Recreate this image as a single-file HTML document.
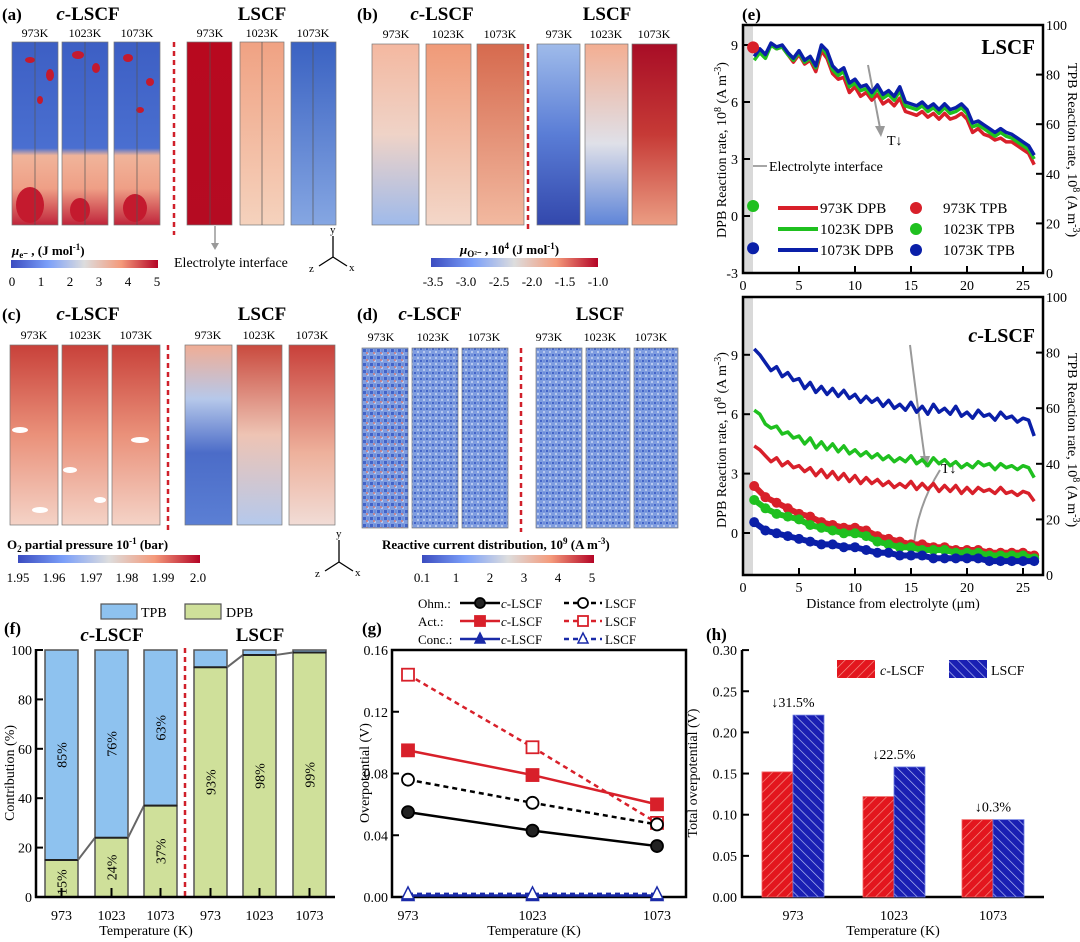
<!DOCTYPE html>
<html><head><meta charset="utf-8">
<style>
html,body{margin:0;padding:0;background:#fff;}
svg{display:block;font-family:"Liberation Serif",serif;}
</style></head>
<body>
<svg id="fig" width="1080" height="942" viewBox="0 0 1080 942" xmlns="http://www.w3.org/2000/svg">
<defs>
  <linearGradient id="cw" x1="0" x2="1" y1="0" y2="0">
    <stop offset="0" stop-color="#3b4cc0"/><stop offset="0.25" stop-color="#7b9ff9"/>
    <stop offset="0.5" stop-color="#dddddd"/><stop offset="0.75" stop-color="#f49a7b"/>
    <stop offset="1" stop-color="#b40426"/>
  </linearGradient>
  <linearGradient id="aC" x1="0" x2="0" y1="0" y2="1"><stop offset="0" stop-color="#3d5fc4"/><stop offset="0.58" stop-color="#4a6fd0"/><stop offset="0.62" stop-color="#f0b49a"/><stop offset="0.8" stop-color="#ef9f86"/><stop offset="1" stop-color="#c0243a"/></linearGradient>
  <linearGradient id="aL1" x1="0" x2="0" y1="0" y2="1"><stop offset="0" stop-color="#b8091f"/><stop offset="1" stop-color="#b50b22"/></linearGradient>
  <linearGradient id="aL2" x1="0" x2="0" y1="0" y2="1"><stop offset="0" stop-color="#f0a283"/><stop offset="1" stop-color="#f5d2bd"/></linearGradient>
  <linearGradient id="aL3" x1="0" x2="0" y1="0" y2="1"><stop offset="0" stop-color="#3a62c2"/><stop offset="1" stop-color="#85a6e2"/></linearGradient>
  <linearGradient id="bC1" x1="0" x2="0" y1="0" y2="1"><stop offset="0" stop-color="#f4b8a0"/><stop offset="0.5" stop-color="#efd3c7"/><stop offset="1" stop-color="#9fbaea"/></linearGradient>
  <linearGradient id="bC2" x1="0" x2="0" y1="0" y2="1"><stop offset="0" stop-color="#f09a78"/><stop offset="1" stop-color="#f3d7c9"/></linearGradient>
  <linearGradient id="bC3" x1="0" x2="0" y1="0" y2="1"><stop offset="0" stop-color="#d66a4e"/><stop offset="1" stop-color="#f2b9a0"/></linearGradient>
  <linearGradient id="bL1" x1="0" x2="0" y1="0" y2="1"><stop offset="0" stop-color="#9fbbea"/><stop offset="0.5" stop-color="#5a7dd6"/><stop offset="1" stop-color="#3348ac"/></linearGradient>
  <linearGradient id="bL2" x1="0" x2="0" y1="0" y2="1"><stop offset="0" stop-color="#f3ae92"/><stop offset="0.55" stop-color="#dfe0e8"/><stop offset="1" stop-color="#5f85d8"/></linearGradient>
  <linearGradient id="bL3" x1="0" x2="0" y1="0" y2="1"><stop offset="0" stop-color="#a80d26"/><stop offset="0.5" stop-color="#c63a36"/><stop offset="1" stop-color="#eb9d83"/></linearGradient>
  <linearGradient id="cC" x1="0" x2="0" y1="0" y2="1"><stop offset="0" stop-color="#c8413a"/><stop offset="0.5" stop-color="#ea917a"/><stop offset="1" stop-color="#f4d3c7"/></linearGradient>
  <linearGradient id="cL1" x1="0" x2="0" y1="0" y2="1"><stop offset="0" stop-color="#f0ad95"/><stop offset="0.3" stop-color="#b6c8ea"/><stop offset="0.6" stop-color="#4b6cc8"/><stop offset="1" stop-color="#5b7fd4"/></linearGradient>
  <linearGradient id="cL2" x1="0" x2="0" y1="0" y2="1"><stop offset="0" stop-color="#c94a3e"/><stop offset="0.5" stop-color="#eec4b4"/><stop offset="1" stop-color="#b5c9ec"/></linearGradient>
  <linearGradient id="cL3" x1="0" x2="0" y1="0" y2="1"><stop offset="0" stop-color="#c8403a"/><stop offset="0.6" stop-color="#eeb19c"/><stop offset="1" stop-color="#f1dcd6"/></linearGradient>
  <pattern id="speck" width="6" height="6" patternUnits="userSpaceOnUse">
    <rect width="6" height="6" fill="#7f9de0"/><circle cx="1" cy="1" r="1.1" fill="#3e5fc6"/><circle cx="4" cy="4" r="1" fill="#c9d6f3"/><circle cx="4" cy="1" r="0.8" fill="#5577d0"/>
  </pattern>
  <pattern id="speckR" width="7" height="7" patternUnits="userSpaceOnUse">
    <rect width="7" height="7" fill="url(#speck)"/><circle cx="3" cy="3" r="1" fill="#d47a78"/>
  </pattern>
  <pattern id="hatchR" width="7" height="7" patternUnits="userSpaceOnUse" patternTransform="rotate(45)">
    <rect width="7" height="7" fill="#e3161e"/><line x1="0" y1="0" x2="0" y2="7" stroke="#f59a8e" stroke-width="1.3"/>
  </pattern>
  <pattern id="hatchB" width="7" height="7" patternUnits="userSpaceOnUse" patternTransform="rotate(-45)">
    <rect width="7" height="7" fill="#1a1fb3"/><line x1="0" y1="0" x2="0" y2="7" stroke="#b9c3f5" stroke-width="1.3"/>
  </pattern>
</defs>

<!-- ============ Panel (a) ============ -->
<g>
  <text x="2" y="20" font-size="17" font-weight="bold">(a)</text>
  <text x="88" y="20" font-size="19" font-weight="bold" text-anchor="middle"><tspan font-style="italic">c</tspan>-LSCF</text>
  <text x="262" y="20" font-size="19" font-weight="bold" text-anchor="middle">LSCF</text>
  <g font-size="12" text-anchor="middle">
    <text x="35" y="37">973K</text><text x="85" y="37">1023K</text><text x="137" y="37">1073K</text>
    <text x="210" y="37">973K</text><text x="262" y="37">1023K</text><text x="313" y="37">1073K</text>
  </g>
  <g stroke="#777" stroke-width="0.7">
    <rect x="12" y="42" width="46" height="183" fill="url(#aC)"/>
    <rect x="62" y="42" width="46" height="183" fill="url(#aC)"/>
    <rect x="114" y="42" width="46" height="183" fill="url(#aC)"/>
    <rect x="187" y="42" width="45" height="183" fill="url(#aL1)"/>
    <rect x="240" y="42" width="44" height="183" fill="url(#aL2)"/>
    <rect x="291" y="42" width="45" height="183" fill="url(#aL3)"/>
  </g>
  <g fill="#c41a2e">
    <ellipse cx="30" cy="60" rx="5" ry="3"/><ellipse cx="50" cy="75" rx="4" ry="6"/><ellipse cx="78" cy="55" rx="6" ry="4"/><ellipse cx="96" cy="68" rx="4" ry="5"/>
    <ellipse cx="128" cy="58" rx="5" ry="4"/><ellipse cx="150" cy="82" rx="4" ry="4"/><ellipse cx="40" cy="100" rx="3" ry="4"/><ellipse cx="140" cy="110" rx="4" ry="3"/>
    <ellipse cx="30" cy="205" rx="14" ry="18"/><ellipse cx="80" cy="210" rx="10" ry="12"/><ellipse cx="135" cy="208" rx="12" ry="14"/>
  </g>
  <g stroke="#555" stroke-width="0.7"><line x1="35" y1="42" x2="35" y2="225"/><line x1="85" y1="42" x2="85" y2="225"/><line x1="137" y1="42" x2="137" y2="225"/><line x1="210" y1="42" x2="210" y2="225"/><line x1="262" y1="42" x2="262" y2="225"/><line x1="313" y1="42" x2="313" y2="225"/></g>
  <line x1="174" y1="42" x2="174" y2="235" stroke="#d0202a" stroke-width="2.5" stroke-dasharray="5,4"/>
  <line x1="215" y1="226" x2="215" y2="244" stroke="#999" stroke-width="1.5"/>
  <polygon points="211,243 219,243 215,250" fill="#999"/>
  <text x="174" y="267" font-size="14">Electrolyte interface</text>
  <text x="12" y="255" font-size="13" font-weight="bold"><tspan font-style="italic">μ</tspan><tspan font-size="9" dy="3">e⁻</tspan><tspan dy="-3"> , (J mol</tspan><tspan font-size="9" dy="-5">-1</tspan><tspan dy="5">)</tspan></text>
  <rect x="11" y="260" width="147" height="8" fill="url(#cw)"/>
  <g font-size="13" text-anchor="middle"><text x="12" y="286">0</text><text x="41" y="286">1</text><text x="70" y="286">2</text><text x="99" y="286">3</text><text x="128" y="286">4</text><text x="157" y="286">5</text></g>
  <g stroke="#000" stroke-width="1.3" fill="none">
    <line x1="333" y1="257" x2="333" y2="236"/><line x1="333" y1="257" x2="347" y2="266"/><line x1="333" y1="257" x2="319" y2="266"/>
  </g>
  <g font-size="11"><text x="330" y="233">y</text><text x="349" y="271">x</text><text x="309" y="272">z</text></g>
</g>

<!-- ============ Panel (b) ============ -->
<g>
  <text x="357" y="20" font-size="17" font-weight="bold">(b)</text>
  <text x="442" y="20" font-size="19" font-weight="bold" text-anchor="middle"><tspan font-style="italic">c</tspan>-LSCF</text>
  <text x="607" y="20" font-size="19" font-weight="bold" text-anchor="middle">LSCF</text>
  <g font-size="12" text-anchor="middle">
    <text x="396" y="38">973K</text><text x="448" y="38">1023K</text><text x="500" y="38">1073K</text>
    <text x="559" y="38">973K</text><text x="606" y="38">1023K</text><text x="654" y="38">1073K</text>
  </g>
  <g stroke="#777" stroke-width="0.7">
    <rect x="372" y="44" width="47" height="181" fill="url(#bC1)"/>
    <rect x="426" y="44" width="45" height="181" fill="url(#bC2)"/>
    <rect x="477" y="44" width="47" height="181" fill="url(#bC3)"/>
    <rect x="537" y="44" width="43" height="181" fill="url(#bL1)"/>
    <rect x="585" y="44" width="43" height="181" fill="url(#bL2)"/>
    <rect x="632" y="44" width="45" height="181" fill="url(#bL3)"/>
  </g>
  <line x1="528" y1="44" x2="528" y2="232" stroke="#d0202a" stroke-width="2.5" stroke-dasharray="5,4"/>
  <text x="460" y="254" font-size="13" font-weight="bold"><tspan font-style="italic">μ</tspan><tspan font-size="9" dy="3">O²⁻</tspan><tspan dy="-3"> , 10</tspan><tspan font-size="9" dy="-5">4</tspan><tspan dy="5"> (J mol</tspan><tspan font-size="9" dy="-5">-1</tspan><tspan dy="5">)</tspan></text>
  <rect x="431" y="258" width="167" height="9" fill="url(#cw)"/>
  <g font-size="13" text-anchor="middle"><text x="433" y="286">-3.5</text><text x="466" y="286">-3.0</text><text x="499" y="286">-2.5</text><text x="532" y="286">-2.0</text><text x="565" y="286">-1.5</text><text x="598" y="286">-1.0</text></g>
</g>

<!-- ============ Panel (c) ============ -->
<g>
  <text x="2" y="320" font-size="17" font-weight="bold">(c)</text>
  <text x="88" y="320" font-size="19" font-weight="bold" text-anchor="middle"><tspan font-style="italic">c</tspan>-LSCF</text>
  <text x="262" y="320" font-size="19" font-weight="bold" text-anchor="middle">LSCF</text>
  <g font-size="12" text-anchor="middle">
    <text x="34" y="339">973K</text><text x="85" y="339">1023K</text><text x="136" y="339">1073K</text>
    <text x="208" y="339">973K</text><text x="259" y="339">1023K</text><text x="312" y="339">1073K</text>
  </g>
  <g stroke="#777" stroke-width="0.7">
    <rect x="10" y="345" width="48" height="180" fill="url(#cC)"/>
    <rect x="62" y="345" width="46" height="180" fill="url(#cC)"/>
    <rect x="112" y="345" width="48" height="180" fill="url(#cC)"/>
    <rect x="185" y="345" width="47" height="180" fill="url(#cL1)"/>
    <rect x="237" y="345" width="45" height="180" fill="url(#cL2)"/>
    <rect x="289" y="345" width="46" height="180" fill="url(#cL3)"/>
  </g>
  <g fill="#fff"><ellipse cx="20" cy="430" rx="8" ry="3"/><ellipse cx="70" cy="470" rx="7" ry="3"/><ellipse cx="140" cy="440" rx="9" ry="3"/><ellipse cx="40" cy="510" rx="8" ry="3"/><ellipse cx="100" cy="500" rx="6" ry="3"/></g>
  <line x1="168" y1="345" x2="168" y2="532" stroke="#d0202a" stroke-width="2.5" stroke-dasharray="5,4"/>
  <text x="7" y="549" font-size="13" font-weight="bold">O<tspan font-size="9" dy="3">2</tspan><tspan dy="-3"> partial pressure 10</tspan><tspan font-size="9" dy="-5">-1</tspan><tspan dy="5"> (bar)</tspan></text>
  <rect x="18" y="555" width="182" height="8" fill="url(#cw)"/>
  <g font-size="13" text-anchor="middle"><text x="18" y="582">1.95</text><text x="54" y="582">1.96</text><text x="91" y="582">1.97</text><text x="127" y="582">1.98</text><text x="163" y="582">1.99</text><text x="198" y="582">2.0</text></g>
  <g stroke="#000" stroke-width="1.3" fill="none">
    <line x1="339" y1="562" x2="339" y2="540"/><line x1="339" y1="562" x2="353" y2="571"/><line x1="339" y1="562" x2="325" y2="571"/>
  </g>
  <g font-size="11"><text x="336" y="537">y</text><text x="355" y="576">x</text><text x="315" y="577">z</text></g>
</g>

<!-- ============ Panel (d) ============ -->
<g>
  <text x="357" y="320" font-size="17" font-weight="bold">(d)</text>
  <text x="430" y="320" font-size="19" font-weight="bold" text-anchor="middle"><tspan font-style="italic">c</tspan>-LSCF</text>
  <text x="600" y="320" font-size="19" font-weight="bold" text-anchor="middle">LSCF</text>
  <g font-size="12" text-anchor="middle">
    <text x="381" y="341">973K</text><text x="433" y="341">1023K</text><text x="484" y="341">1073K</text>
    <text x="549" y="341">973K</text><text x="600" y="341">1023K</text><text x="651" y="341">1073K</text>
  </g>
  <g stroke="#777" stroke-width="0.7">
    <rect x="362" y="348" width="46" height="180" fill="url(#speckR)"/>
    <rect x="412" y="348" width="46" height="180" fill="url(#speck)"/>
    <rect x="462" y="348" width="46" height="180" fill="url(#speck)"/>
    <rect x="536" y="348" width="46" height="180" fill="url(#speck)"/>
    <rect x="586" y="348" width="44" height="180" fill="url(#speck)"/>
    <rect x="634" y="348" width="44" height="180" fill="url(#speck)"/>
  </g>
  <line x1="521" y1="348" x2="521" y2="532" stroke="#d0202a" stroke-width="2.5" stroke-dasharray="5,4"/>
  <text x="382" y="549" font-size="13" font-weight="bold">Reactive current distribution, 10<tspan font-size="9" dy="-5">9</tspan><tspan dy="5"> (A m</tspan><tspan font-size="9" dy="-5">-3</tspan><tspan dy="5">)</tspan></text>
  <rect x="422" y="555" width="172" height="8" fill="url(#cw)"/>
  <g font-size="13" text-anchor="middle"><text x="422" y="582">0.1</text><text x="456" y="582">1</text><text x="490" y="582">2</text><text x="524" y="582">3</text><text x="558" y="582">4</text><text x="592" y="582">5</text></g>
</g>

<!-- ============ Panel (e) ============ -->
<g id="panelE">
  <text x="742" y="20" font-size="17" font-weight="bold">(e)</text>
  <rect x="743" y="25" width="10" height="248" fill="#d9d9d9"/>
  <rect x="743" y="297" width="10" height="278" fill="#d9d9d9"/>
  <text x="1035" y="54" font-size="21" font-weight="bold" text-anchor="end">LSCF</text>
  <text x="1035" y="342" font-size="20" font-weight="bold" text-anchor="end"><tspan font-style="italic">c</tspan>-LSCF</text>
  <line x1="753" y1="166" x2="767" y2="166" stroke="#888" stroke-width="1.5"/>
  <text x="769" y="171" font-size="14">Electrolyte interface</text>
  <g><line x1="868" y1="65" x2="880" y2="128" stroke="#999" stroke-width="2"/><polygon points="875,126 885,126 881,137" fill="#999"/></g>
  <text x="887" y="145" font-size="14">T↓</text>
  <g fill="none" stroke="#999" stroke-width="2"><path d="M910,345 Q918,410 925,460"/><path d="M940,470 Q915,510 913,555"/></g>
  <polygon points="920,456 930,456 926,468" fill="#999"/>
  <text x="941" y="473" font-size="14">T↓</text>
  <text transform="translate(726,150) rotate(-90)" font-size="14" text-anchor="middle">DPB Reaction rate, 10<tspan font-size="10" dy="-5">8</tspan><tspan dy="5"> (A m</tspan><tspan font-size="10" dy="-5">-3</tspan><tspan dy="5">)</tspan></text>
  <text transform="translate(1068,150) rotate(90)" font-size="14" text-anchor="middle">TPB Reaction rate, 10<tspan font-size="10" dy="-5">8</tspan><tspan dy="5"> (A m</tspan><tspan font-size="10" dy="-5">-3</tspan><tspan dy="5">)</tspan></text>
  <text transform="translate(726,440) rotate(-90)" font-size="14" text-anchor="middle">DPB Reaction rate, 10<tspan font-size="10" dy="-5">8</tspan><tspan dy="5"> (A m</tspan><tspan font-size="10" dy="-5">-3</tspan><tspan dy="5">)</tspan></text>
  <text transform="translate(1068,440) rotate(90)" font-size="14" text-anchor="middle">TPB Reaction rate, 10<tspan font-size="10" dy="-5">8</tspan><tspan dy="5"> (A m</tspan><tspan font-size="10" dy="-5">-3</tspan><tspan dy="5">)</tspan></text>
  <text x="893" y="608" font-size="14" text-anchor="middle">Distance from electrolyte (μm)</text>
</g>

<!-- ============ Panel (f) ============ -->
<g id="panelF">
  <text x="4" y="634" font-size="17" font-weight="bold">(f)</text>
  <text x="112" y="641" font-size="19" font-weight="bold" text-anchor="middle"><tspan font-style="italic">c</tspan>-LSCF</text>
  <text x="260" y="641" font-size="19" font-weight="bold" text-anchor="middle">LSCF</text>
  <rect x="101" y="604" width="36" height="15" fill="#8ec2ef" stroke="#555" stroke-width="1.2"/>
  <text x="141" y="617" font-size="14">TPB</text>
  <rect x="185" y="604" width="36" height="15" fill="#cfe09a" stroke="#555" stroke-width="1.2"/>
  <text x="226" y="617" font-size="14">DPB</text>
  <line x1="185" y1="648" x2="185" y2="900" stroke="#d0202a" stroke-width="2.5" stroke-dasharray="5,4"/>
  <text transform="translate(14,773) rotate(-90)" font-size="14" text-anchor="middle">Contribution (%)</text>
  <text x="146" y="935" font-size="14" text-anchor="middle">Temperature (K)</text>
</g>

<!-- ============ Panel (g) ============ -->
<g id="panelG">
  <text x="362" y="634" font-size="17" font-weight="bold">(g)</text>
  <text transform="translate(369,773) rotate(-90)" font-size="14" text-anchor="middle">Overpotential (V)</text>
  <text x="534" y="935" font-size="14" text-anchor="middle">Temperature (K)</text>
</g>

<!-- ============ Panel (h) ============ -->
<g id="panelH">
  <text x="706" y="640" font-size="17" font-weight="bold">(h)</text>
  <text transform="translate(697,773) rotate(-90)" font-size="14" text-anchor="middle">Total overpotential (V)</text>
  <text x="893" y="935" font-size="14" text-anchor="middle">Temperature (K)</text>
  <rect x="837" y="660" width="38" height="18" fill="url(#hatchR)"/>
  <text x="880" y="675" font-size="14"><tspan font-style="italic">c</tspan>-LSCF</text>
  <rect x="949" y="660" width="38" height="18" fill="url(#hatchB)"/>
  <text x="991" y="675" font-size="14">LSCF</text>
</g>
</svg>

<script>
// ---------- Panel (e) data ----------
const eStart = 1, eStep = 0.5;
const eTopRed = [9.0,8.6,8.4,9.0,8.8,8.9,8.5,8.1,8.5,8.0,8.2,7.6,8.7,8.3,7.5,7.2,7.3,6.5,6.8,6.3,6.5,6.1,6.4,5.9,6.1,5.8,6.2,5.5,5.4,5.3,5.5,5.2,5.4,5.1,5.4,5.1,5.2,5.4,5.1,4.4,4.6,4.3,4.2,4.0,4.1,3.9,3.9,3.7,3.5,3.3,2.7];
const eTopGreen = [8.2,8.6,8.3,9.0,8.8,8.9,8.5,8.2,8.6,8.1,8.3,7.8,8.9,8.5,7.7,7.4,7.6,6.8,7.0,6.6,6.7,6.3,6.7,6.2,6.4,6.1,6.6,5.8,5.7,5.6,5.8,5.5,5.7,5.4,5.7,5.4,5.5,5.7,5.4,4.7,4.8,4.6,4.4,4.2,4.4,4.2,4.1,3.9,3.7,3.5,3.0];
const eTopBlue = [8.4,8.8,8.5,9.1,8.9,9.0,8.6,8.3,8.7,8.2,8.4,7.9,9.0,8.7,7.9,7.6,7.8,7.0,7.2,6.8,6.9,6.5,6.9,6.4,6.6,6.3,6.8,6.0,5.9,5.8,6.0,5.7,5.9,5.6,5.9,5.6,5.7,5.9,5.6,4.9,5.0,4.8,4.6,4.4,4.6,4.4,4.3,4.1,3.9,3.7,3.2];
const eTopTpbX = [0.9, 0.9, 0.9];
const eTopTpbVal = [91, 27, 10];
const eBotRed = [4.4,4.2,3.9,3.6,3.8,3.4,3.6,3.3,3.4,3.1,3.3,2.9,3.2,2.8,3.1,2.7,3.0,2.6,2.9,2.5,2.8,2.5,2.7,2.4,2.6,2.3,2.5,2.3,2.6,2.2,2.5,2.2,2.5,2.1,2.4,2.1,2.4,2.0,2.3,2.0,2.3,2.1,2.2,2.0,2.3,2.0,2.1,1.9,2.1,2.0,1.6];
const eBotGreen = [6.2,6.0,5.5,5.3,5.4,5.0,5.1,4.8,4.9,4.5,4.8,4.3,4.6,4.2,4.5,4.1,4.4,4.0,4.2,3.9,4.1,3.8,4.0,3.7,3.9,3.6,3.8,3.6,3.9,3.5,3.7,3.4,3.8,3.5,3.7,3.4,3.6,3.3,3.5,3.3,3.6,3.4,3.5,3.2,3.5,3.3,3.4,3.2,3.4,3.3,2.8];
const eBotBlue = [9.3,9.0,8.6,8.2,8.4,7.9,8.1,7.7,7.8,7.3,7.6,7.1,7.4,7.0,7.3,6.9,7.2,6.8,7.0,6.6,6.9,6.6,6.8,6.4,6.7,6.3,6.5,6.2,6.6,6.1,6.4,6.0,6.5,6.1,6.3,6.0,6.4,5.9,6.1,5.8,6.2,5.9,6.0,5.7,6.1,5.8,5.9,5.6,5.8,5.7,4.9];
const eTpbX = [1,2,3,4,5,6,7,8,9,10,11,12,13,14,15,16,17,18,19,20,21,22,23,24,25,26];
const eTpbRed = [32,28,26,24,22,21,19,18,17,17,16,14,13,12,11,11,10,10,9,9,9,8,8,8,8,7];
const eTpbGreen = [27,24,22,21,20,18,17,16,15,15,14,12,11,10,10,9,9,9,8,8,8,7,7,7,7,6];
const eTpbBlue = [19,16,15,14,13,12,11,11,10,10,9,8,8,7,7,7,6,6,6,6,6,5,5,5,5,5];
const eXTicks = [0,5,10,15,20,25];
const eLeftTicks = [-3,0,3,6,9];
const eRightTicks = [0,20,40,60,80,100];
const eLeftTicksBot = [0,3,6,9];
// ---------- Panel (f) data ----------
const fGroups = ['973','1023','1073','973','1023','1073'];
const fDpb = [15,24,37,93,98,99];
const fTpbLabels = ['85%','76%','63%','','',''];
const fDpbLabels = ['15%','24%','37%','93%','98%','99%'];
const fYTicks = [0,20,40,60,80,100];
// ---------- Panel (g) data ----------
const gTemps = [973,1023,1073];
const gOhmC = [0.055,0.043,0.033];
const gOhmL = [0.076,0.061,0.047];
const gActC = [0.095,0.079,0.060];
const gActL = [0.144,0.097,0.048];
const gConcC = [0.001,0.001,0.001];
const gConcL = [0.002,0.002,0.002];
const gYTicks = [0,0.04,0.08,0.12,0.16];
// ---------- Panel (h) data ----------
const hTemps = ['973','1023','1073'];
const hCL = [0.152,0.122,0.094];
const hL = [0.221,0.158,0.094];
const hNotes = ['↓31.5%','↓22.5%','↓0.3%'];
const hYTicks = [0,0.05,0.10,0.15,0.20,0.25,0.30];

const NS = 'http://www.w3.org/2000/svg';
function mk(parent, tag, attrs, txt){
  const el = document.createElementNS(NS, tag);
  for (const k in attrs) el.setAttribute(k, attrs[k]);
  if (txt !== undefined) el.textContent = txt;
  parent.appendChild(el);
  return el;
}
const E = document.getElementById('panelE');
const F = document.getElementById('panelF');
const G = document.getElementById('panelG');
const H = document.getElementById('panelH');

// ===== (e) =====
const xE = v => 743 + v * 11.2;
const yTL = v => 273 - (v + 3) * 19.0;
const yTR = v => 273 - v * 2.48;
const yBL = v => 533 - v * 19.8;
const yBR = v => 575 - v * 2.78;
const eCols = ['#d8202a', '#1fc01f', '#0a1fa8'];
const eNames = ['973k', '1023k', '1073k'];

function ePath(arr, yf){
  return arr.map((v, i) => (i ? 'L' : 'M') + xE(eStart + i * eStep).toFixed(1) + ',' + yf(v).toFixed(1)).join(' ');
}
function eFrame(top, bot, leftTicks, yL, yR, name){
  let el;
  el = mk(E, 'rect', {x: 743, y: top, width: 300, height: bot - top, fill: 'none', stroke: '#000', 'stroke-width': 2.5});
  
  
  eXTicks.forEach(t => {
    el = mk(E, 'line', {x1: xE(t), x2: xE(t), y1: bot, y2: bot - 7, stroke: '#000', 'stroke-width': 2});
    
    
    el = mk(E, 'text', {x: xE(t), y: bot + 17, 'font-size': 14, 'text-anchor': 'middle'}, t);
    
    
  });
  leftTicks.forEach(t => {
    el = mk(E, 'line', {x1: 743, x2: 750, y1: yL(t), y2: yL(t), stroke: '#000', 'stroke-width': 2});
    
    
    el = mk(E, 'text', {x: 738, y: yL(t) + 5, 'font-size': 14, 'text-anchor': 'end'}, t);
    
    
  });
  eRightTicks.forEach(t => {
    el = mk(E, 'line', {x1: 1036, x2: 1043, y1: yR(t), y2: yR(t), stroke: '#000', 'stroke-width': 2});
    
    
    el = mk(E, 'text', {x: 1046, y: yR(t) + 5, 'font-size': 14}, t);
    
    
  });
}
eFrame(25, 273, eLeftTicks, yTL, yTR, 'e-top');
eFrame(297, 575, eLeftTicksBot, yBL, yBR, 'e-bottom');

[eTopRed, eTopGreen, eTopBlue].forEach((arr, k) => {
  const el = mk(E, 'path', {d: ePath(arr, yTL), fill: 'none', stroke: eCols[k], 'stroke-width': 3.5, 'stroke-linejoin': 'round'});
  
  
});
eTopTpbVal.forEach((v, k) => {
  const el = mk(E, 'circle', {cx: xE(eTopTpbX[k]), cy: yTR(v), r: 6, fill: eCols[k]});
  
  
});
[eBotRed, eBotGreen, eBotBlue].forEach((arr, k) => {
  const el = mk(E, 'path', {d: ePath(arr, yBL), fill: 'none', stroke: eCols[k], 'stroke-width': 3.5, 'stroke-linejoin': 'round'});
  
  
});
[eTpbRed, eTpbGreen, eTpbBlue].forEach((arr, k) => {
  const d = arr.map((v, i) => (i ? 'L' : 'M') + xE(eTpbX[i]).toFixed(1) + ',' + yBR(v).toFixed(1)).join(' ');
  let el = mk(E, 'path', {d: d, fill: 'none', stroke: eCols[k], 'stroke-width': 6});
  
  
  arr.forEach((v, i) => {
    el = mk(E, 'circle', {cx: xE(eTpbX[i]), cy: yBR(v), r: 5, fill: eCols[k]});
    
    
  });
});
// legend (e)
const legLabels = ['973K DPB', '1023K DPB', '1073K DPB'];
const legTpb = ['973K TPB', '1023K TPB', '1073K TPB'];
[208, 229, 250].forEach((y, k) => {
  let el = mk(E, 'line', {x1: 778, x2: 818, y1: y, y2: y, stroke: eCols[k], 'stroke-width': 4});
  
  
  el = mk(E, 'text', {x: 820, y: y + 5, 'font-size': 15}, legLabels[k]);
  
  
  el = mk(E, 'circle', {cx: 916, cy: y, r: 6, fill: eCols[k]});
  
  
  el = mk(E, 'text', {x: 943, y: y + 5, 'font-size': 15}, legTpb[k]);
  
  
});

// ===== (f) =====
const yF = v => 897 - v * 2.47;
const fBarX = [45, 95, 144, 194, 243, 293];
const fBarW = 33;
fGroups.forEach((g, i) => {
  let el = mk(F, 'rect', {x: fBarX[i], y: yF(100), width: fBarW, height: yF(fDpb[i]) - yF(100), fill: '#8ec2ef', stroke: '#555', 'stroke-width': 1.5});
  
  
  el = mk(F, 'rect', {x: fBarX[i], y: yF(fDpb[i]), width: fBarW, height: yF(0) - yF(fDpb[i]), fill: '#cfe09a', stroke: '#555', 'stroke-width': 1.5});
  
  
  el = mk(F, 'line', {x1: fBarX[i], x2: fBarX[i] + fBarW, y1: yF(fDpb[i]), y2: yF(fDpb[i]), stroke: '#222', 'stroke-width': 2});
  
  
  if (i < fGroups.length - 1 && i !== 2) {
    el = mk(F, 'line', {x1: fBarX[i] + fBarW, x2: fBarX[i + 1], y1: yF(fDpb[i]), y2: yF(fDpb[i + 1]), stroke: '#666', 'stroke-width': 2});
    
    
  }
  const cx = fBarX[i] + fBarW / 2;
  if (fTpbLabels[i]) {
    const cy = (yF(100) + yF(fDpb[i])) / 2;
    el = mk(F, 'text', {x: cx, y: cy, 'font-size': 14, 'text-anchor': 'middle', transform: 'rotate(-90 ' + cx + ' ' + cy + ')', dy: 5}, fTpbLabels[i]);
    
    
  }
  const cy3 = i === 0 ? yF(6) : (yF(fDpb[i]) + yF(0)) / 2;
  el = mk(F, 'text', {x: cx, y: cy3, 'font-size': 14, 'text-anchor': 'middle', transform: 'rotate(-90 ' + cx + ' ' + cy3 + ')', dy: 5}, fDpbLabels[i]);
  
  
  el = mk(F, 'text', {x: cx, y: 920, 'font-size': 14, 'text-anchor': 'middle'}, g);
  
  
  el = mk(F, 'line', {x1: cx, x2: cx, y1: 897, y2: 888, stroke: '#000', 'stroke-width': 2});
  
  
});
{
  let el = mk(F, 'line', {x1: 36, x2: 36, y1: 649, y2: 898, stroke: '#000', 'stroke-width': 2.5});
  
  
  el = mk(F, 'line', {x1: 35, x2: 335, y1: 897, y2: 897, stroke: '#000', 'stroke-width': 2.5});
  
  
  fYTicks.forEach(t => {
    el = mk(F, 'line', {x1: 36, x2: 43, y1: yF(t), y2: yF(t), stroke: '#000', 'stroke-width': 2});
    
    
    el = mk(F, 'text', {x: 32, y: yF(t) + 5, 'font-size': 14, 'text-anchor': 'end'}, t);
    
    
  });
}

// ===== (g) =====
const xG = t => 408 + (t - 973) * 2.49;
const yG = v => 897 - v * 1543.75;
{
  let el = mk(G, 'rect', {x: 392, y: 650, width: 294, height: 247, fill: 'none', stroke: '#000', 'stroke-width': 2.5});
  
  
  gYTicks.forEach(t => {
    el = mk(G, 'line', {x1: 392, x2: 399, y1: yG(t), y2: yG(t), stroke: '#000', 'stroke-width': 2});
    
    
    el = mk(G, 'text', {x: 388, y: yG(t) + 5, 'font-size': 14, 'text-anchor': 'end'}, t.toFixed(2));
    
    
  });
  gTemps.forEach(t => {
    el = mk(G, 'text', {x: xG(t), y: 920, 'font-size': 14, 'text-anchor': 'middle'}, t);
    
    
  });
}
const gSeries = [
  {d: gActL, c: '#d8202a', dash: '5,4', m: 'sq', fill: '#fff', n: 'act-lscf'},
  {d: gActC, c: '#d8202a', dash: '', m: 'sq', fill: '#d8202a', n: 'act-clscf'},
  {d: gOhmL, c: '#000', dash: '5,4', m: 'ci', fill: '#fff', n: 'ohm-lscf'},
  {d: gOhmC, c: '#000', dash: '', m: 'ci', fill: '#222', n: 'ohm-clscf'},
  {d: gConcC, c: '#1a2aa8', dash: '', m: 'tr', fill: '#1a2aa8', n: 'conc-clscf'},
  {d: gConcL, c: '#1a2aa8', dash: '5,4', m: 'tr', fill: '#fff', n: 'conc-lscf'}
];
function marker(par, m, x, y, c, f, sz){
  if (m === 'sq') return mk(par, 'rect', {x: x - sz, y: y - sz, width: 2 * sz, height: 2 * sz, fill: f, stroke: c, 'stroke-width': 1.8});
  if (m === 'ci') return mk(par, 'circle', {cx: x, cy: y, r: sz, fill: f, stroke: c, 'stroke-width': 1.8});
  return mk(par, 'polygon', {points: (x) + ',' + (y - sz - 1) + ' ' + (x - sz) + ',' + (y + sz - 1) + ' ' + (x + sz) + ',' + (y + sz - 1), fill: f, stroke: c, 'stroke-width': 1.5});
}
gSeries.forEach(s => {
  const d = s.d.map((v, i) => (i ? 'L' : 'M') + xG(gTemps[i]) + ',' + yG(v)).join(' ');
  let el = mk(G, 'path', {d: d, fill: 'none', stroke: s.c, 'stroke-width': 2.5, 'stroke-dasharray': s.dash});
  
  
  s.d.forEach((v, i) => {
    el = marker(G, s.m, xG(gTemps[i]), yG(v), s.c, s.fill, 6);
    
    
  });
});
// legend (g)
const gLegRows = [
  {label: 'Ohm.:', y: 603, c: '#000', m: 'ci', fs: '#222'},
  {label: 'Act.:', y: 621, c: '#d8202a', m: 'sq', fs: '#d8202a'},
  {label: 'Conc.:', y: 639, c: '#1a2aa8', m: 'tr', fs: '#1a2aa8'}
];
gLegRows.forEach(r => {
  let el = mk(G, 'text', {x: 418, y: r.y + 5, 'font-size': 13}, r.label);
  
  
  el = mk(G, 'line', {x1: 460, x2: 500, y1: r.y, y2: r.y, stroke: r.c, 'stroke-width': 2.5});
  
  
  el = marker(G, r.m, 480, r.y, r.c, r.fs, 5);
  
  
  el = mk(G, 'text', {x: 501, y: r.y + 5, 'font-size': 13}, '');
  el.innerHTML = '<tspan font-style="italic">c</tspan>-LSCF';
  
  
  el = mk(G, 'line', {x1: 564, x2: 602, y1: r.y, y2: r.y, stroke: r.c, 'stroke-width': 2.5, 'stroke-dasharray': '5,4'});
  
  
  el = marker(G, r.m, 583, r.y, r.c, '#fff', 5);
  
  
  el = mk(G, 'text', {x: 605, y: r.y + 5, 'font-size': 13}, 'LSCF');
  
  
});

// ===== (h) =====
const yH = v => 897 - v * 823;
const hCenter = [793, 894, 993];
const hBarW = 31;
{
  let el = mk(H, 'line', {x1: 742, x2: 742, y1: 650, y2: 898, stroke: '#000', 'stroke-width': 2.5});
  
  
  el = mk(H, 'line', {x1: 741, x2: 1044, y1: 897, y2: 897, stroke: '#000', 'stroke-width': 2.5});
  
  
  hYTicks.forEach(t => {
    el = mk(H, 'line', {x1: 742, x2: 749, y1: yH(t), y2: yH(t), stroke: '#000', 'stroke-width': 2});
    
    
    el = mk(H, 'text', {x: 737, y: yH(t) + 5, 'font-size': 14, 'text-anchor': 'end'}, t.toFixed(2));
    
    
  });
}
hTemps.forEach((t, i) => {
  const c = hCenter[i];
  let el = mk(H, 'rect', {x: c - hBarW, y: yH(hCL[i]), width: hBarW, height: yH(0) - yH(hCL[i]), fill: 'url(#hatchR)', stroke: '#f06060', 'stroke-width': 0.8});
  
  
  el = mk(H, 'rect', {x: c, y: yH(hL[i]), width: hBarW, height: yH(0) - yH(hL[i]), fill: 'url(#hatchB)', stroke: '#6a7ae0', 'stroke-width': 0.8});
  
  
  el = mk(H, 'text', {x: c, y: yH(Math.max(hCL[i], hL[i])) - 8, 'font-size': 14, 'text-anchor': 'middle'}, hNotes[i]);
  
  
  el = mk(H, 'text', {x: c, y: 920, 'font-size': 14, 'text-anchor': 'middle'}, t);
  
  
});
</script>
</body></html>
